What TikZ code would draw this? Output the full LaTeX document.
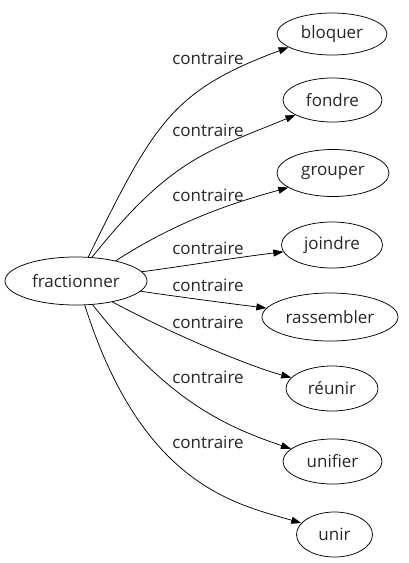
\documentclass[tikz,border=0pt]{standalone}
\usepackage{fontspec}
\setmainfont{Open Sans}
\usetikzlibrary{arrows.meta,shapes.geometric}
\begin{document}
\begin{tikzpicture}[x=1pt,y=-1pt,
  every node/.style={font=\fontsize{17}{19}\selectfont, text=black!85},
  word/.style={draw, ellipse, inner sep=0pt, line width=0.75pt},
  lbl/.style={inner sep=0pt},
  rel/.style={draw, line width=0.75pt, -{Triangle[length=10pt,width=7pt]}}]
\useasboundingbox (0,0) rectangle (408,563);
\node[word, minimum width=142pt, minimum height=48pt] (frac) at (76,281) {fractionner};
\node[word, minimum width=110pt, minimum height=42pt] (bloquer) at (332,34) {bloquer};
\node[word, minimum width=99pt, minimum height=44pt] (fondre) at (332.5,100) {fondre};
\node[word, minimum width=112pt, minimum height=47pt] (grouper) at (333,173) {grouper};
\node[word, minimum width=101pt, minimum height=46pt] (joindre) at (332,245) {joindre};
\node[word, minimum width=136pt, minimum height=48pt] (rassembler) at (330,317) {rassembler};
\node[word, minimum width=92pt, minimum height=45pt] (reunir) at (332,388.5) {réunir};
\node[word, minimum width=99pt, minimum height=45pt] (unifier) at (332.5,461.5) {unifier};
\node[word, minimum width=76pt, minimum height=45pt] (unir) at (334.5,534.5) {unir};
\path[rel] (frac.63) .. controls (154,124) and (171,91) .. (bloquer.197);
\path[rel] (frac.56) .. controls (172,157) and (209,151) .. (fondre.202);
\path[rel] (frac.27) .. controls (182,218) and (240,201) .. (grouper.198);
\path[rel] (frac.8) .. controls (185,266) and (240,257) .. (joindre.188);
\path[rel] (frac.-9) .. controls (180,297) and (225,303) .. (rassembler.172);
\path[rel] (frac.-30) .. controls (190,343) and (259,369) .. (reunir.165);
\path[rel] (frac.-55) .. controls (167,399) and (221,425) .. (unifier.163);
\path[rel] (frac.-70) .. controls (142,486) and (236,504) .. (unir.161);
\node[lbl] (l1) at (208,58) {contraire};
\node[lbl] (l2) at (208,130) {contraire};
\node[lbl] (l3) at (208,195) {contraire};
\node[lbl] (l4) at (208,248) {contraire};
\node[lbl] (l5) at (208,285) {contraire};
\node[lbl] (l6) at (208,322) {contraire};
\node[lbl] (l7) at (208,377) {contraire};
\node[lbl] (l8) at (208,442) {contraire};
\end{tikzpicture}
\end{document}
